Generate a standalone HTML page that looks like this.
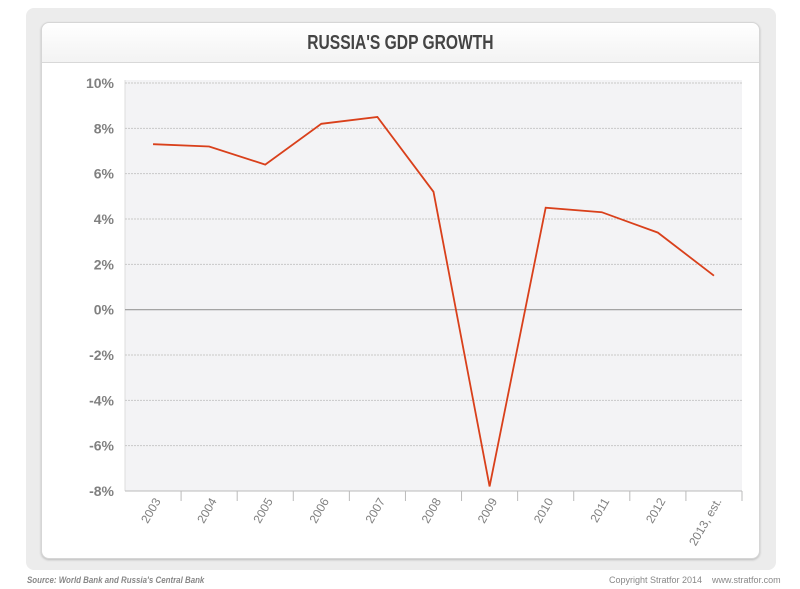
<!DOCTYPE html>
<html><head><meta charset="utf-8"><style>
body{margin:0;background:#fff;font-family:"Liberation Sans",sans-serif;}
#wrap{position:relative;width:800px;height:589px;overflow:hidden;background:#fff;}
#outer{position:absolute;left:26px;top:8px;width:750px;height:562px;background:#ececec;border-radius:8px;}
#panel{position:absolute;left:41px;top:22px;width:717px;height:535px;background:#fff;border:1px solid #d6d6d6;border-radius:8px;box-shadow:0 1px 2px #bbb;}
#header{position:absolute;left:0;top:0;width:717px;height:39px;background:linear-gradient(#fff,#f3f3f3);border-bottom:1px solid #d8d8d8;border-radius:8px 8px 0 0;text-align:center;line-height:41px;}
#header span{display:inline-block;font-weight:bold;font-size:20px;color:#444;transform:scaleX(0.78);}
.foot{position:absolute;top:575px;font-size:9px;color:#888;transform-origin:left top;}
svg{position:absolute;left:0;top:0;}
</style></head><body>
<div id="wrap">
<div id="outer"></div>
<div id="panel"><div id="header"><span>RUSSIA'S GDP GROWTH</span></div></div>
<svg id="chart" width="800" height="589"></svg>
<div class="foot" style="left:27px;font-style:italic;font-weight:bold;transform:scaleX(0.88);">Source: World Bank and Russia's Central Bank</div>
<div class="foot" style="left:609px;">Copyright Stratfor 2014 &nbsp;&nbsp; www.stratfor.com</div>
</div>
<script>
const categories=["2003","2004","2005","2006","2007","2008","2009","2010","2011","2012","2013, est."];
const gdpGrowth=[7.3,7.2,6.4,8.2,8.5,5.2,-7.8,4.5,4.3,3.4,1.5];
const yTicks=[10,8,6,4,2,0,-2,-4,-6,-8];
const NS="http://www.w3.org/2000/svg";
const svg=document.getElementById('chart');
const L=125,R=742,T=80,B=491,yMin=-8,yMax=10,yTop=83;
const band=(R-L)/categories.length;
const x=i=>L+band*(i+0.5);
const y=v=>yTop+(yMax-v)/(yMax-yMin)*(B-yTop);
function mk(tag,attrs){const e=document.createElementNS(NS,tag);for(const k in attrs)e.setAttribute(k,attrs[k]);svg.appendChild(e);return e;}
const bg=mk('rect',{x:L,y:T,width:R-L,height:B-T,fill:'#f3f3f5'});


mk('line',{x1:L,y1:T,x2:L,y2:B,stroke:'#ddd'});
yTicks.forEach(v=>{
  if(v!==yMin){const g=mk('line',{x1:L,x2:R,y1:y(v),y2:y(v),stroke:v===0?'#999':'#c8c8c8','stroke-dasharray':v===0?'':'2,1','stroke-width':v===0?1.2:1});
  
  }
  const t=mk('text',{x:114,y:y(v)+5,'text-anchor':'end','font-size':14,'font-weight':'bold',fill:'#808080'});
  t.textContent=v+'%';
  
  
});
mk('line',{x1:L,x2:R,y1:B,y2:B,stroke:'#bbb'});
for(let i=1;i<=categories.length;i++){mk('line',{x1:L+band*i,x2:L+band*i,y1:B,y2:B+10,stroke:'#bbb'});}
categories.forEach((c,i)=>{
  const cx=x(i)+8,cy=B+10;
  const t=mk('text',{x:cx,y:cy,'text-anchor':'end','font-size':12,fill:'#808080',transform:`rotate(-60 ${cx} ${cy})`});
  t.textContent=c;
  
  
});
const p=mk('polyline',{points:gdpGrowth.map((v,i)=>x(i)+','+y(v)).join(' '),fill:'none',stroke:'#d9401b','stroke-width':1.8,'stroke-linejoin':'miter'});


</script>
</body></html>
